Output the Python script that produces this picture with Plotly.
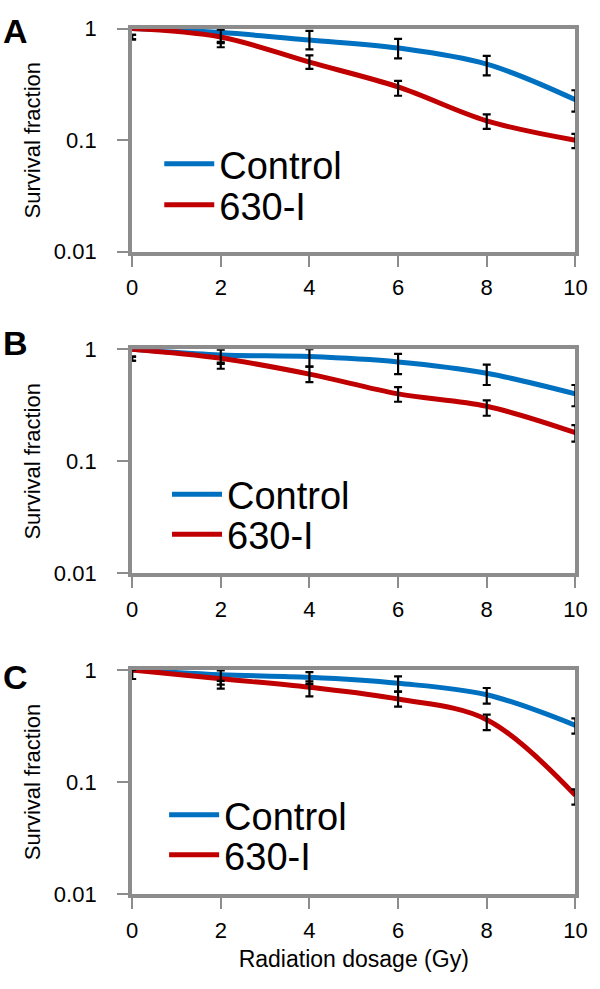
import math
import plotly.graph_objects as go

dose = [0, 2, 4, 6, 8, 10]
x_ticks = [0, 2, 4, 6, 8, 10]
y_ticks = [0.01, 0.1, 1]
y_tick_text = ["0.01", "0.1", "1"]
panel_labels = ["A", "B", "C"]
series_names = ["Control", "630-I"]

# Panel A
ctrl_A = [1.0, 0.92, 0.79, 0.67, 0.48, 0.23]
red_A = [1.0, 0.84, 0.50, 0.30, 0.149, 0.10]
ctrl_A_lo = [0.80, 0.74, 0.65, 0.54, 0.38, 0.18]
ctrl_A_hi = [0.88, 0.98, 0.955, 0.81, 0.57, 0.28]
red_A_lo = [0.80, 0.68, 0.435, 0.25, 0.126, 0.085]
red_A_hi = [0.88, 0.76, 0.575, 0.34, 0.17, 0.114]

# Panel B
ctrl_B = [1.0, 0.89, 0.86, 0.77, 0.61, 0.40]
red_B = [1.0, 0.83, 0.60, 0.40, 0.31, 0.18]
ctrl_B_lo = [0.79, 0.74, 0.70, 0.60, 0.48, 0.31]
ctrl_B_hi = [0.86, 0.99, 1.0, 0.91, 0.73, 0.48]
red_B_lo = [0.79, 0.67, 0.51, 0.34, 0.255, 0.15]
red_B_hi = [0.86, 0.76, 0.70, 0.46, 0.35, 0.21]

# Panel C
ctrl_C = [1.0, 0.905, 0.86, 0.76, 0.60, 0.32]
red_C = [1.0, 0.835, 0.70, 0.55, 0.36, 0.076]
ctrl_C_lo = [0.83, 0.74, 0.75, 0.64, 0.50, 0.27]
ctrl_C_hi = [1.0, 0.99, 0.955, 0.875, 0.69, 0.37]
red_C_lo = [0.83, 0.68, 0.58, 0.47, 0.29, 0.063]
red_C_hi = [1.0, 0.80, 0.79, 0.64, 0.40, 0.086]

panels = [
    (ctrl_A, red_A, ctrl_A_lo, ctrl_A_hi, red_A_lo, red_A_hi),
    (ctrl_B, red_B, ctrl_B_lo, ctrl_B_hi, red_B_lo, red_B_hi),
    (ctrl_C, red_C, ctrl_C_lo, ctrl_C_hi, red_C_lo, red_C_hi),
]

W, H = 600, 989
BLUE = "#0070C0"
RED = "#C00000"
FRAME = "#8c8c8c"
FONT = "Liberation Sans, Arial, sans-serif"

x_px = (130, 587)
y_px = [(17, 246), (346, 576), (675, 905)]
legend_px = [(158, 156, 198), (166, 495, 536), (163, 824, 865)]
letter_y = [20, 340, 682]

fig = go.Figure()

for i, (ctrl, red, clo, chi, rlo, rhi) in enumerate(panels):
    n = "" if i == 0 else str(i + 1)
    xa, ya = "x" + n, "y" + n
    lg1 = "legend" if i == 0 else "legend" + str(2 * i + 1)
    lg2 = "legend" + str(2 * i + 2)
    fig.add_trace(go.Scatter(x=dose, y=ctrl, mode="lines", name=series_names[0],
                             line=dict(color=BLUE, width=5, shape="spline"),
                             xaxis=xa, yaxis=ya, legend=lg1, cliponaxis=False))
    fig.add_trace(go.Scatter(x=dose, y=red, mode="lines", name=series_names[1],
                             line=dict(color=RED, width=5, shape="spline"),
                             xaxis=xa, yaxis=ya, legend=lg2, cliponaxis=False))
    for lo, hi in ((clo, chi), (rlo, rhi)):
        mid = [math.sqrt(a * b) for a, b in zip(lo, hi)]
        fig.add_trace(go.Scatter(
            x=dose, y=mid, mode="markers", marker=dict(size=1, opacity=0),
            error_y=dict(type="data", symmetric=False,
                         array=[h - m for h, m in zip(hi, mid)],
                         arrayminus=[m - l for m, l in zip(mid, lo)],
                         color="black", thickness=2.2, width=4),
            xaxis=xa, yaxis=ya, showlegend=False, hoverinfo="skip", cliponaxis=False))

    y0, y1 = y_px[i]
    dom_y = [1 - y1 / H, 1 - y0 / H]
    axis_common = dict(showline=True, mirror=True, linecolor=FRAME, linewidth=4,
                       ticks="outside", tickcolor=FRAME, tickwidth=2, ticklen=11,
                       showgrid=False, zeroline=False,
                       tickfont=dict(family=FONT, size=22, color="black"))
    xkw = dict(axis_common, domain=[x_px[0] / W, x_px[1] / W], range=[0, 10],
               tickvals=x_ticks, anchor=ya, ticklabelstandoff=2)
    if i == 2:
        xkw["title"] = dict(text="Radiation dosage (Gy)", standoff=10,
                            font=dict(family=FONT, size=23, color="black"))
    ykw = dict(axis_common, domain=dom_y, type="log", range=[-2, 0],
               tickvals=y_ticks, ticktext=y_tick_text, anchor=xa,
               ticklabelstandoff=16,
               title=dict(text="Survival fraction", standoff=8,
                          font=dict(family=FONT, size=22, color="black")))
    fig.layout["xaxis" + n] = xkw
    fig.layout["yaxis" + n] = ykw

    lx, ly1, ly2 = legend_px[i]
    legkw = dict(xref="paper", yref="paper", xanchor="left", yanchor="middle",
                 bgcolor="rgba(0,0,0,0)", borderwidth=0, itemwidth=50,
                 font=dict(family=FONT, size=38, color="black"))
    fig.layout[lg1] = dict(legkw, x=lx / W, y=1 - ly1 / H)
    fig.layout[lg2] = dict(legkw, x=lx / W, y=1 - ly2 / H)

    fig.add_annotation(text="<b>" + panel_labels[i] + "</b>", xref="paper", yref="paper",
                       x=-5 / W, y=1 - letter_y[i] / H, xanchor="left", yanchor="middle",
                       showarrow=False, font=dict(family=FONT, size=34, color="black"))

fig.update_layout(width=W, height=H, margin=dict(l=0, r=0, t=0, b=0),
                  plot_bgcolor="white", paper_bgcolor="white", showlegend=True,
                  font=dict(family=FONT))

fig.write_html("out.html", config={"displayModeBar": False},
               post_script="document.body.style.margin='0px';document.body.style.overflow='hidden';")
